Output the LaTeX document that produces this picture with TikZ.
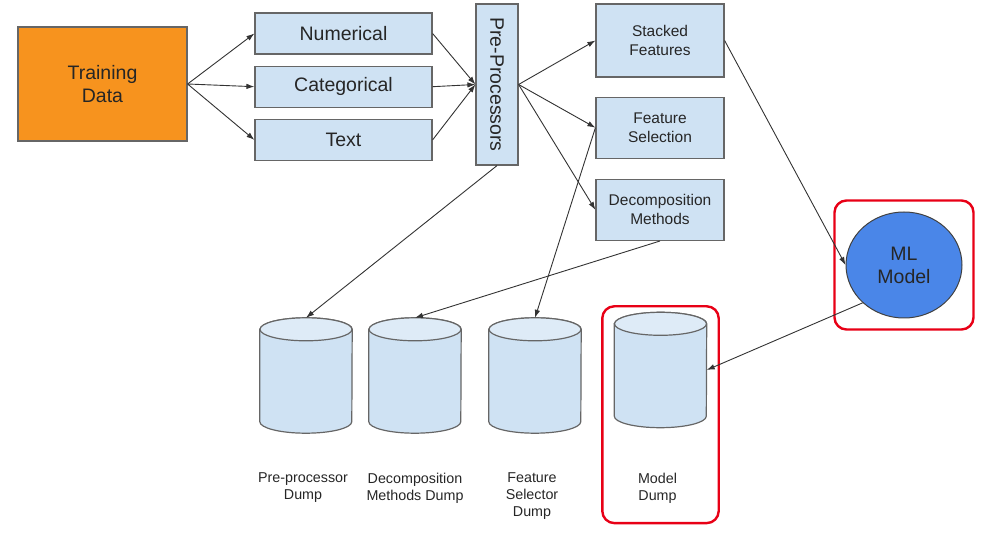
\documentclass[tikz,border=0pt]{standalone}
\usepackage{fontspec}
\setmainfont{Liberation Sans}
\usepackage{tikz}
\usetikzlibrary{shapes.geometric}
\usetikzlibrary{fit}
\usetikzlibrary{positioning}
\usetikzlibrary{arrows.meta}

\definecolor{dataorange}{RGB}{247,147,30}
\definecolor{boxblue}{RGB}{207,226,243}
\definecolor{toplight}{RGB}{222,235,247}
\definecolor{modelblue}{RGB}{74,134,232}
\definecolor{edgegray}{RGB}{102,102,102}
\definecolor{linegray}{RGB}{51,51,51}
\definecolor{markred}{RGB}{232,0,22}

\begin{document}
\begin{tikzpicture}
[
	x						= 1pt,
	y						= -1pt,
	%
	% boxes | text sizes | dumps | arrows | red marks
	box/.style				=
	{
		draw				= edgegray,
		line width			= 1.2pt,
		fill				= boxblue,
		text				= black!85,
		align				= center,
		inner sep			= 0pt,
	},
	bigtext/.style			= {font = \fontsize{19.5}{23}\selectfont},
	smalltext/.style		= {font = \fontsize{15.5}{19}\selectfont},
	%
	dump/.style				=
	{
		minimum width		= 92pt,
		minimum height		= 115pt,
		inner sep			= 0pt,
	},
	dumpbody/.style			=
	{
		draw				= edgegray,
		line width			= 1.2pt,
		fill				= boxblue,
	},
	dumptop/.style			=
	{
		dumpbody,
		fill				= toplight,
	},
	dumplabel/.style		=
	{
		align				= center,
		text				= black!85,
		font				= \fontsize{14.3}{17}\selectfont,
	},
	%
	flow/.style				=
	{
		draw				= linegray,
		line width			= 0.9pt,
		-{Latex[length = 8pt, width = 5.5pt]},
	},
	hilite/.style			=
	{
		draw				= markred,
		line width			= 2.4pt,
		rounded corners		= 12pt,
	},
]
	\useasboundingbox (0,0) rectangle (988,537);
	
	\node (train) [box, bigtext, fill = dataorange, minimum width = 169pt, minimum height = 114pt] at (102.5,84) {Training\\Data};
	
	\node (num) [box, bigtext, minimum width = 177pt, minimum height = 41pt] at (343.5,33.5) {Numerical};
	\node (cat) [box, bigtext, minimum width = 177pt, minimum height = 41pt, below = 11pt of num] {Categorical};
	\node (txt) [box, bigtext, minimum width = 177pt, minimum height = 41pt, below = 11pt of cat] {Text};
	
	\node (pre) [box, bigtext, rotate = -90, minimum width = 161pt, minimum height = 42pt] at (497,84.5) {Pre-Processors};
	
	\node (stack) [box, smalltext, minimum width = 128pt, minimum height = 73pt] at (660,40.5) {Stacked\\Features};
	\node (fsel) [box, smalltext, minimum width = 128pt, minimum height = 61pt, below = 19pt of stack] {Feature\\Selection};
	\node (decomp) [box, smalltext, minimum width = 128pt, minimum height = 61pt, below = 20pt of fsel] {Decomposition\\Methods};
	
	\node (ml) [ellipse, draw = black!75, line width = 1pt, fill = modelblue, align = center, text = black!85, bigtext, minimum width = 116pt, minimum height = 106pt] at (904,265) {ML\\Model};
	
	% dumps: the node holds the place, the cylinder is drawn over it
	\node (ppdump) [dump] at (306,375.5) {};
	\node (decdump) [dump] at (415,375.5) {};
	\node (fsdump) [dump] at (535,375.5) {};
	\node (mddump) [dump] at (660.5,370) {};
	
	\foreach \d in {ppdump, decdump, fsdump, mddump}
	{
		\draw [dumpbody] ([yshift = -11.5pt] \d.north west) -- ([yshift = 11.5pt] \d.south west)
			arc [start angle = 180, end angle = 360, x radius = 46pt, y radius = 11.5pt]
			-- ([yshift = -11.5pt] \d.north east)
			arc [start angle = 0, end angle = 180, x radius = 46pt, y radius = 11.5pt] -- cycle;
		\draw [dumptop] ([yshift = -11.5pt] \d.north) ellipse [x radius = 46pt, y radius = 11.5pt];
	}
	
	\node (pplabel) [dumplabel, below = 36pt of ppdump, xshift = -3pt] {Pre-processor\\Dump};
	\node (declabel) [dumplabel, below = 36pt of decdump] {Decomposition\\Methods Dump};
	\node (fslabel) [dumplabel, below = 36pt of fsdump, xshift = -3pt] {Feature\\Selector\\Dump};
	\node (mdlabel) [dumplabel, below = 42pt of mddump, xshift = -3pt] {Model\\Dump};
	
	\node (mlmark) [hilite, fit = (ml), inner sep = 11pt] {};
	\coordinate [below = 10pt of mdlabel] (mdfoot);
	\node (mdmark) [hilite, fit = (mddump) (mdfoot), inner xsep = 12pt, inner ysep = 6pt] {};
	
	\draw [flow] (train.east) -- (num.west);
	\draw [flow] (train.east) -- (cat.west);
	\draw [flow] (train.east) -- (txt.west);
	
	\draw [flow] (num.east) -- (pre.south);
	\draw [flow] (cat.east) -- (pre.south);
	\draw [flow] (txt.east) -- (pre.south);
	
	\draw [flow] (pre.north) -- (stack.west);
	\draw [flow] (pre.north) -- (fsel.west);
	\draw [flow] (pre.north) -- (decomp.west);
	
	\draw [flow] (stack.east) -- (ml.west);
	\draw [flow] (ml.south west) -- (mddump.east);
	
	\draw [flow] (pre.east) -- (ppdump.north);
	\draw [flow] (decomp.south) -- (decdump.north);
	\draw [flow] (fsel.west) -- (fsdump.north);

\end{tikzpicture}
\end{document}
